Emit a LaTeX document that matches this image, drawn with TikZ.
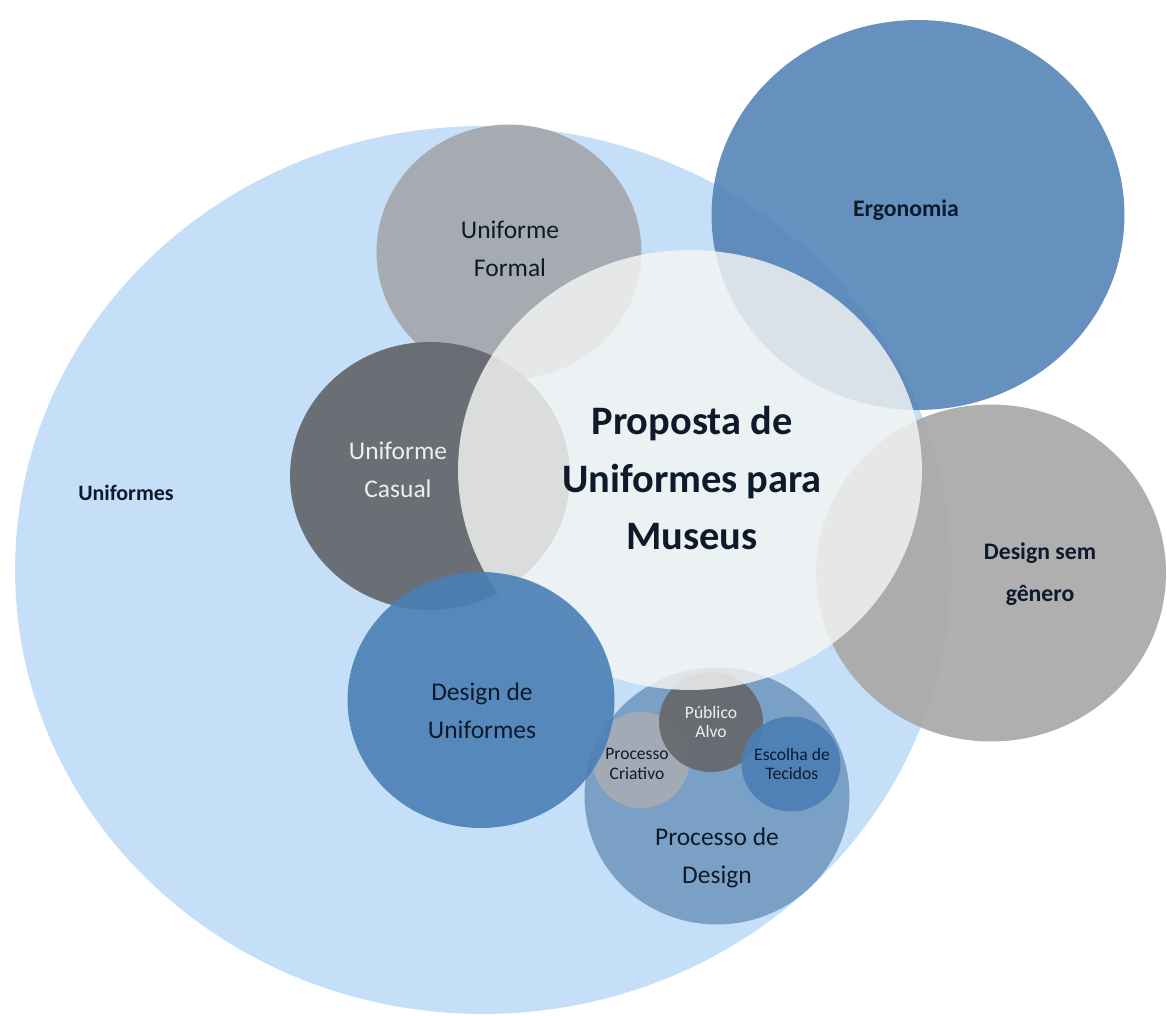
\documentclass[tikz,border=0pt]{standalone}
\usepackage{fontspec}
\setmainfont{Carlito}
\usepackage{xcolor}
\usetikzlibrary{shapes.geometric, positioning}

\definecolor{skyc}{HTML}{C5DFF8}
\definecolor{ergoc}{HTML}{5584B6}
\definecolor{semc}{HTML}{A8A8A8}
\definecolor{formalc}{HTML}{A3A7AC}
\definecolor{casualc}{HTML}{666A70}
\definecolor{centralc}{HTML}{F5F5F3}
\definecolor{designc}{HTML}{4A7FB5}
\definecolor{processc}{HTML}{6F95BE}
\definecolor{publicoc}{HTML}{686A6E}
\definecolor{criativoc}{HTML}{B0B0B0}
\definecolor{tecidosc}{HTML}{4B7EB6}
\definecolor{labelc}{HTML}{0D1A2B}
\definecolor{lightlbl}{HTML}{EEEEEE}

\begin{document}
\begin{tikzpicture}[
    x=0.02cm, y=-0.02cm,
    bubble/.style={ellipse, inner sep=0pt, outer sep=0pt, fill opacity=0.9},
    lbl/.style={align=center, text=labelc, font=\fontsize{14.5}{21.5}\selectfont},
    boldlbl/.style={align=center, text=labelc, font=\fontsize{13.5}{24}\selectfont\bfseries},
    small/.style={align=center, text=labelc, font=\fontsize{10}{11}\selectfont}
]
    \useasboundingbox (0,0) rectangle (1167,1016);

    % Circles
    \node[bubble, fill=skyc, fill opacity=1, minimum width=18.72cm, minimum height=17.76cm] (uniformes) at (483,570) {};
    \node[bubble, fill=ergoc, minimum width=8.26cm, minimum height=7.8cm] (ergonomia) at (918,215) {};
    \node[bubble, fill=semc, fill opacity=0.92, minimum width=7cm, minimum height=6.74cm] (semgenero) at (991,573) {};
    \node[bubble, fill=formalc, fill opacity=0.92, minimum width=5.3cm, minimum height=5.1cm] (formal) at (509,252) {};
    \node[bubble, fill=casualc, fill opacity=0.95, minimum width=5.6cm, minimum height=5.36cm] (casual) at (430,476) {};
    \node[bubble, fill=processc, fill opacity=0.85, minimum width=5.3cm, minimum height=5.14cm] (processo) at (717,796) {};
    \node[bubble, fill=criativoc, fill opacity=0.75, minimum width=1.94cm, minimum height=1.92cm] (criativo) at (641,760) {};
    \node[bubble, fill=publicoc, fill opacity=0.95, minimum width=2.08cm, minimum height=2cm] (publico) at (711,722) {};
    \node[bubble, fill=tecidosc, minimum width=1.98cm, minimum height=1.9cm] (tecidos) at (791,764) {};
    \node[bubble, fill=centralc, fill opacity=0.82, minimum width=9.28cm, minimum height=8.8cm] (proposta) at (690,470) {};
    \node[bubble, fill=designc, minimum width=5.34cm, minimum height=5.12cm] (design) at (481,700) {};

    % Labels
    \node[boldlbl, font=\fontsize{12.5}{15}\selectfont\bfseries] (uniformes-txt) at (126,493) {Uniformes};
    \node[lbl] (formal-txt) at (510,249) {Uniforme\\Formal};
    \node[lbl, text=lightlbl] (casual-txt) at (398,470) {Uniforme\\Casual};
    \node[boldlbl] (ergonomia-txt) at (906,210) {Ergonomia};
    \node[align=center, text=labelc, font=\fontsize{23}{32.5}\selectfont\bfseries] (proposta-txt) at (692,478) {Proposta de\\Uniformes para\\Museus};
    \node[boldlbl] (semgenero-txt) at (1040,574) {Design sem\\gênero};
    \node[lbl] (design-txt) at (482,711) {Design de\\Uniformes};
    \node[lbl] (processo-txt) at (717,858) {Processo de\\Design};
    \node[small, text=lightlbl] (publico-txt) at (711,722) {Público\\Alvo};
    \node[small] (criativo-txt) at (637,764) {Processo\\Criativo};
    \node[small] (tecidos-txt) at (792,764) {Escolha de\\Tecidos};
\end{tikzpicture}
\end{document}
